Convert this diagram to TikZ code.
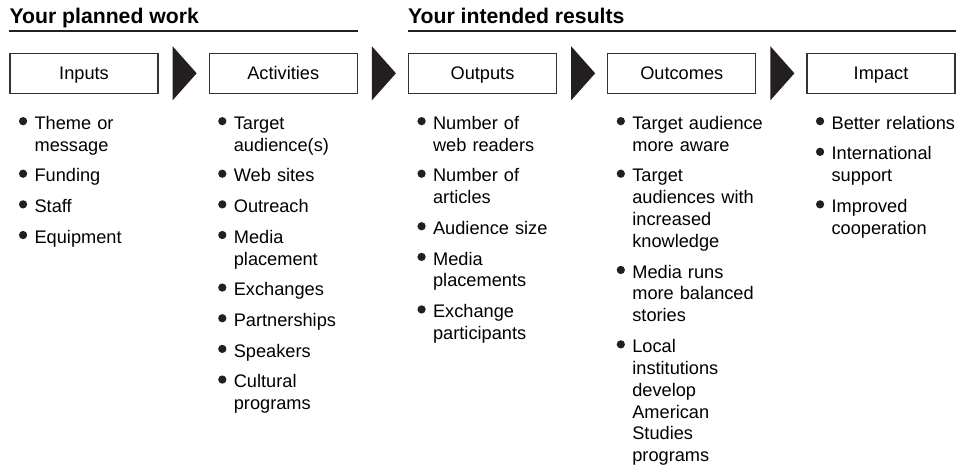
\documentclass[tikz,border=0pt]{standalone}
\usepackage{fontspec}
\setmainfont{Liberation Sans}
\usetikzlibrary{calc}
\definecolor{inkC}{HTML}{231F20}
\definecolor{edgeC}{HTML}{333333}
\newcommand\dotmark{\strut\hspace{7pt}\tikz[baseline=0pt]\fill[inkC] (0,6.1pt) circle (3.1pt);}
\newenvironment{pointlist}{\list{\dotmark}{\setlength\leftmargin{18.75pt}%
  \setlength\labelwidth{18.75pt}\setlength\labelsep{0pt}\setlength\itemindent{0pt}%
  \setlength\itemsep{6.6pt}\setlength\parsep{0pt}\setlength\topsep{0pt}%
  \setlength\partopsep{0pt}\renewcommand\makelabel[1]{##1\hfil}}}{\endlist}
\tikzset{
  stage/.style={draw=edgeC, line width=1pt, minimum width=111pt, minimum height=30pt,
                inner sep=0pt, text height=9.8pt, text depth=0pt,
                font=\fontsize{13.65pt}{16.4pt}\selectfont},
  items/.style={anchor=north west, inner sep=0pt, text width=130pt, align=left,
                font=\fontsize{13.65pt}{16.4pt}\selectfont},
  head/.style={anchor=base west, inner sep=0pt, font=\bfseries\fontsize{15.9pt}{18pt}\selectfont},
  headrule/.style={draw=inkC, line width=1.5pt},
  tri/.style={fill=inkC},
}
\newcommand\chev[1]{\fill[tri] ($(#1.east)+(14,27)$) -- ($(#1.east)+(14,-27)$) -- ($(#1.east)+(38,0)$) -- cycle;}

\begin{document}
\begin{tikzpicture}[x=0.75pt, y=0.75pt]
\useasboundingbox (0,0) rectangle (974,-466);
\node[stage] (inputs) at (84,-73.3) {Inputs};
\node[stage] (activities) at (283.25,-73.3) {Activities};
\node[stage] (outputs) at (482.5,-73.3) {Outputs};
\node[stage] (outcomes) at (681.75,-73.3) {Outcomes};
\node[stage] (impact) at (881,-73.3) {Impact};
\chev{inputs}
\chev{activities}
\chev{outputs}
\chev{outcomes}
% headings over the two halves
\node[head] (planned) at ($(inputs.north west)+(0,29.3)$) {Your planned work};
\node[head] (intended) at ($(outputs.north west)+(0,29.3)$) {Your intended results};
\draw[headrule] ($(inputs.north west)+(0,22)$) -- ($(activities.north east)+(0,22)$);
\draw[headrule] ($(outputs.north west)+(0,22)$) -- ($(impact.north east)+(0,22)$);
% bullet lists
\node[items] (inputsList) at ([yshift=-9.9pt]inputs.south west) {\begin{pointlist}
  \item Theme or\\message
  \item Funding
  \item Staff
  \item Equipment
\end{pointlist}};
\node[items] (activitiesList) at ([yshift=-9.9pt]activities.south west) {\begin{pointlist}
  \item Target\\audience(s)
  \item Web sites
  \item Outreach
  \item Media\\placement
  \item Exchanges
  \item Partnerships
  \item Speakers
  \item Cultural\\programs
\end{pointlist}};
\node[items] (outputsList) at ([yshift=-9.9pt]outputs.south west) {\begin{pointlist}
  \item Number of\\web readers
  \item Number of\\articles
  \item Audience size
  \item Media\\placements
  \item Exchange\\participants
\end{pointlist}};
\node[items] (outcomesList) at ([yshift=-9.9pt]outcomes.south west) {\begin{pointlist}
  \item Target audience\\more aware
  \item Target\\audiences with\\increased\\knowledge
  \item Media runs\\more balanced\\stories
  \item Local\\institutions\\develop\\American\\Studies\\programs
\end{pointlist}};
\node[items] (impactList) at ([yshift=-9.9pt]impact.south west) {\begin{pointlist}
  \item Better relations
  \item International\\support
  \item Improved\\cooperation
\end{pointlist}};
\end{tikzpicture}
\end{document}
